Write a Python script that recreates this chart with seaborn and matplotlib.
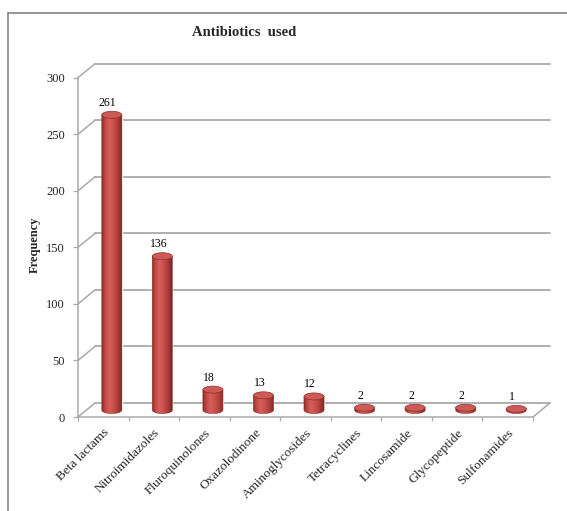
import numpy as np
import matplotlib
matplotlib.use("Agg")
import matplotlib.pyplot as plt
import matplotlib.transforms as mtransforms
from matplotlib.patches import Ellipse, PathPatch
from matplotlib.path import Path
from matplotlib.lines import Line2D
from matplotlib.colors import LinearSegmentedColormap
import seaborn as sns

# Data
categories = ["Beta lactams", "Nitroimidazoles", "Fluroquinolones", "Oxazolodinone",
              "Aminoglycosides", "Tetracyclines", "Lincosamide", "Glycopeptide",
              "Sulfonamides"]
frequency = [261, 136, 18, 13, 12, 2, 2, 2, 1]
y_ticks = [0, 50, 100, 150, 200, 250, 300]

sns.set_theme(style="white")
plt.rcParams["font.family"] = ["Liberation Serif", "DejaVu Serif"]

W, H, DPI = 567, 511, 100
fig = plt.figure(figsize=(W / DPI, H / DPI), dpi=DPI)

# front plane of the 3-D box (pixels)
ax_l, ax_r, ax_top, ax_bot = 78, 533, 77.7, 417
ax = fig.add_axes([ax_l / W, (H - ax_bot) / H, (ax_r - ax_l) / W, (ax_bot - ax_top) / H])
n = len(categories)
ax.set_xlim(-0.5, n - 0.5)
ax.set_ylim(0, 300)

# depth vector of the box, converted to data units
px_per_cat = (ax_r - ax_l) / n
px_per_unit = (ax_bot - ax_top) / 300
depth_px = (17, 14)
ddx = depth_px[0] / px_per_cat
ddy = depth_px[1] / px_per_unit

grid_col = "#A9A9A9"
for v in y_ticks:
    # back wall line
    ax.add_line(Line2D([-0.5 + ddx, n - 0.5 + ddx], [v + ddy, v + ddy], color=grid_col,
                       lw=1.3, clip_on=False, zorder=1))
    # side wall diagonal
    ax.add_line(Line2D([-0.5, -0.5 + ddx], [v, v + ddy], color=grid_col, lw=1.1,
                       clip_on=False, zorder=1))
# floor right edge
ax.add_line(Line2D([n - 0.5, n - 0.5 + ddx], [0, ddy], color=grid_col, lw=1.1,
                   clip_on=False, zorder=1))

# cylinder bodies
bar_w = 20 / px_per_cat
ell_h = 7 / px_per_unit
sns.barplot(x=categories, y=frequency, color="#C0504D", width=bar_w, ax=ax,
            saturation=1, zorder=3)
mid = mtransforms.Affine2D().translate(ddx / 2, ddy / 2) + ax.transData

cmap = LinearSegmentedColormap.from_list(
    "cyl", [(0.0, "#8A2B29"), (0.12, "#B8423F"), (0.35, "#D65F5B"),
            (0.6, "#C64E4B"), (0.85, "#A23936"), (1.0, "#7C2624")])
grad = np.linspace(0, 1, 64).reshape(1, -1)

for i, (p, v) in enumerate(zip(ax.patches, frequency)):
    p.set_transform(mid)
    p.set_clip_on(False)
    x0, w = p.get_x(), p.get_width()
    cx = x0 + w / 2
    t = np.linspace(np.pi, 2 * np.pi, 40)
    bx = cx + w / 2 * np.cos(t)
    by = ell_h / 2 * np.sin(t)
    verts = [(x0, v)] + list(zip(bx, by)) + [(x0 + w, v), (x0, v)]
    codes = [Path.MOVETO] + [Path.LINETO] * (len(verts) - 2) + [Path.CLOSEPOLY]
    side = PathPatch(Path(verts, codes), transform=mid, facecolor="none",
                     edgecolor="#8E2E2C", lw=0.5, zorder=4, clip_on=False)
    ax.add_patch(side)
    im = ax.imshow(grad, cmap=cmap, aspect="auto", interpolation="bilinear",
                   extent=[x0, x0 + w, -ell_h / 2, v], transform=mid, zorder=3.5)
    im.set_clip_path(side)
    top = Ellipse((cx, v), w, ell_h, transform=mid, facecolor="#CC5A56",
                  edgecolor="#8E2E2C", lw=0.5, zorder=5, clip_on=False)
    ax.add_patch(top)
    ax.annotate(f"{v}", xy=(cx, v), xycoords=mid, xytext=(-2.9, 8.6),
                textcoords="offset points", ha="center", va="center", fontsize=8.5,
                color="black", zorder=6, annotation_clip=False)

ax.set_xlim(-0.5, n - 0.5)
ax.set_ylim(0, 300)

# axes styling
for s in ["top", "right"]:
    ax.spines[s].set_visible(False)
for s in ["left", "bottom"]:
    ax.spines[s].set_color(grid_col)
    ax.spines[s].set_linewidth(1.1)
    ax.spines[s].set_zorder(1)
ax.set_yticks(y_ticks)
ax.set_yticklabels([str(t) for t in y_ticks], fontsize=9)
ax.tick_params(axis="y", direction="out", length=3.6, width=0.9, color=grid_col,
               pad=5.8, left=True)
ax.set_xticks(range(n))
ax.set_xticklabels(categories, rotation=45, ha="right", rotation_mode="anchor",
                   fontsize=9.5)
ax.set_xticks(np.arange(-0.5, n, 1), minor=True)
ax.tick_params(axis="x", which="major", length=0, pad=7)
ax.tick_params(axis="x", which="minor", direction="out", length=3, width=0.9,
               color=grid_col, bottom=True)
ax.set_xlabel("")
ax.set_ylabel("Frequency", fontsize=9, fontweight="bold")
ax.yaxis.set_label_coords((40.5 - ax_l) / (ax_r - ax_l), (ax_bot - 245) / (ax_bot - ax_top))
ax.grid(False)
ax.set_facecolor("none")

fig.text(244 / W, 1 - 33 / H, "Antibiotics  used", ha="center", va="center",
         fontsize=10.5, fontweight="bold")

# outer frame
frame_col = "#8C8C8C"
fig.add_artist(Line2D([8 / W, 1], [1 - 13.5 / H, 1 - 13.5 / H], color=frame_col, lw=1.3))
fig.add_artist(Line2D([8 / W, 8 / W], [0, 1 - 13.5 / H], color=frame_col, lw=1.3))

fig.savefig("out.png", dpi=DPI)
